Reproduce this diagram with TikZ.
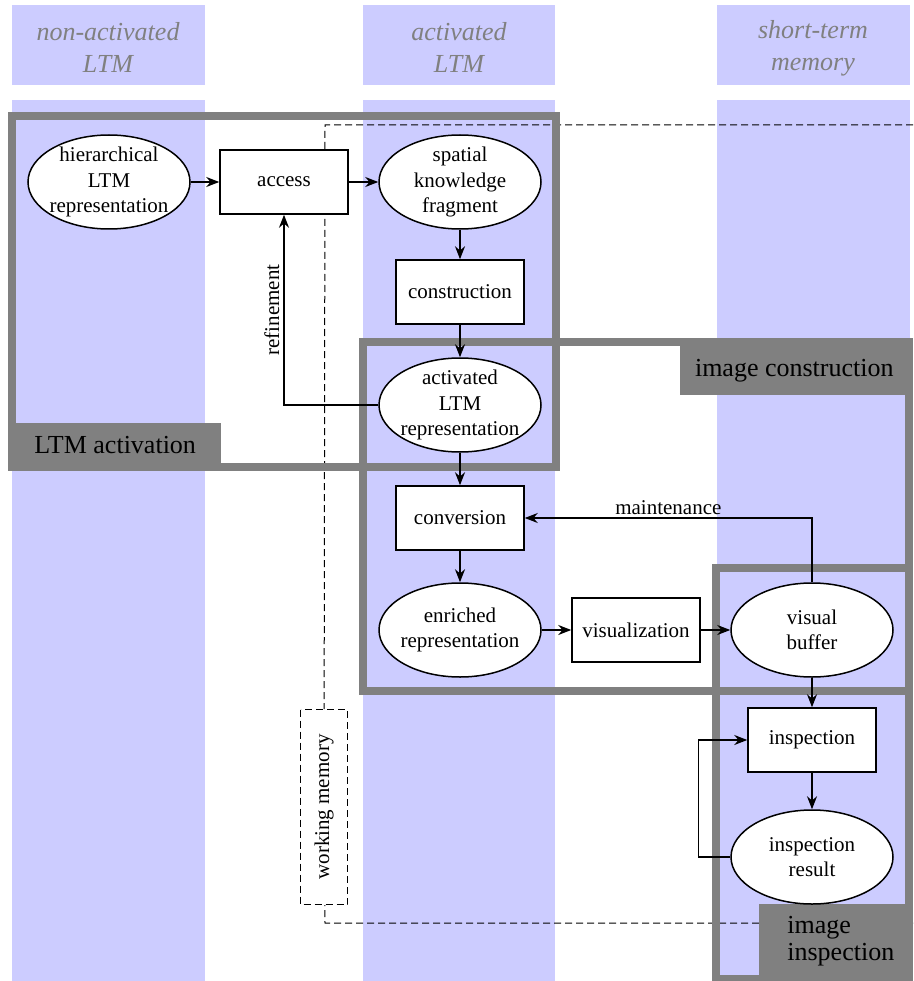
\documentclass[tikz,border=0pt]{standalone}
\usepackage{fontspec}
\setmainfont{Liberation Serif}
\usetikzlibrary{shapes.geometric,arrows.meta}
\definecolor{lanecol}{HTML}{CCCCFF}
\definecolor{framecol}{HTML}{808080}
\newcommand\nodefont{\fontsize{21}{25.5}\selectfont}
\newcommand\labfont{\fontsize{26}{30}\selectfont}
\newcommand\headfont{\fontsize{26}{32}\selectfont\itshape}
\begin{document}
\begin{tikzpicture}[x=1pt,y=-1pt,
  lane/.style={fill=lanecol,draw=none},
  frame/.style={draw=framecol,line width=8pt},
  flabel/.style={fill=framecol,text=black,font=\labfont,inner sep=0pt},
  head/.style={text=framecol,font=\headfont,align=center},
  ell/.style={ellipse,draw,fill=white,line width=1.5pt,minimum width=162pt,minimum height=94pt,inner sep=-16pt,align=center,font=\nodefont},
  box/.style={rectangle,draw,fill=white,line width=1.5pt,minimum width=128pt,minimum height=64pt,inner sep=0pt,align=center,font=\nodefont},
  arr/.style={-{Stealth[length=13pt,width=10pt]},line width=1.5pt},
  wmline/.style={dash pattern=on 7pt off 4pt,line width=1pt},
  small/.style={font=\nodefont}
]
\useasboundingbox (0,0) rectangle (913,981);
% lanes
\fill[lane] (12,5) rectangle (205,85);
\fill[lane] (363,5) rectangle (555,85);
\fill[lane] (717,5) rectangle (910,85);
\fill[lane] (12,100) rectangle (205,981);
\fill[lane] (363,100) rectangle (555,981);
\fill[lane] (717,100) rectangle (910,981);
% headers
\node[head] (h1) at (108,47) {non-activated\\LTM};
\node[head] (h2) at (459,47) {activated\\LTM};
\node[head] (h3) at (813,48) {short-term\\memory};
% working memory
\coordinate (wmTL) at (325,125);
\coordinate (wmTR) at (913,125);
\coordinate (wmBL) at (325,923);
\coordinate (wmBR) at (913,923);
\node[draw,wmline,rotate=90,minimum width=195pt,minimum height=47pt,inner sep=0pt,small] (wm) at (324,807) {working memory};
\draw[wmline] (wmTR) -- (wmTL) -- (wm);
\draw[wmline] (wmBR) -- (wmBL) -- (wm);
% frame labels
\node[flabel,minimum width=212pt,minimum height=45pt,anchor=south west] (lLTM) at (9,468) {LTM activation};
\node[flabel,minimum width=229pt,minimum height=49pt,anchor=north east] (lIC) at (909,346) {image construction};
\node[flabel,minimum width=150pt,minimum height=75pt,anchor=south east] (lII) at (909,979) {\hspace*{14pt}\begin{tabular}{@{}l@{}}image\\[-3pt]inspection\end{tabular}};
% frames
\draw[frame] (12,116) rectangle (556,467);
\draw[frame] (363,342) rectangle (909,691);
\draw[frame] (716,568) rectangle (909,979);
% nodes
\node[ell] (hier) at (109,182) {hierarchical\\LTM\\representation};
\node[box] (access) at (284,182) {access};
\node[ell] (skf) at (460,182) {spatial\\knowledge\\fragment};
\node[box] (constr) at (460,292) {construction};
\node[ell] (act) at (460,405) {activated\\LTM\\representation};
\node[box] (conv) at (460,518) {conversion};
\node[ell] (enr) at (460,630) {enriched\\representation};
\node[box] (vis) at (636,630) {visualization};
\node[ell] (vb) at (812,630) {visual\\buffer};
\node[box] (insp) at (812,740) {inspection};
\node[ell] (ir) at (812,857) {inspection\\result};
% connectors
\draw[arr] (hier) -- (access);
\draw[arr] (access) -- (skf);
\draw[arr] (skf) -- (constr);
\draw[arr] (constr) -- (act);
\draw[arr] (act) -- (conv);
\draw[arr] (conv) -- (enr);
\draw[arr] (enr) -- (vis);
\draw[arr] (vis) -- (vb);
\draw[arr] (vb) -- (insp);
\draw[arr] (insp) -- (ir);
\draw[arr] (ir.west) -- ++(-32,0) |- (insp.west);
\draw[arr] (act.west) -| (access.south) node[pos=0.75,rotate=90,anchor=south,small,inner sep=4pt] {refinement};
\draw[arr] (vb.north) |- (conv.east) node[pos=0.75,above,small,inner sep=3pt] {maintenance};
\end{tikzpicture}
\end{document}
